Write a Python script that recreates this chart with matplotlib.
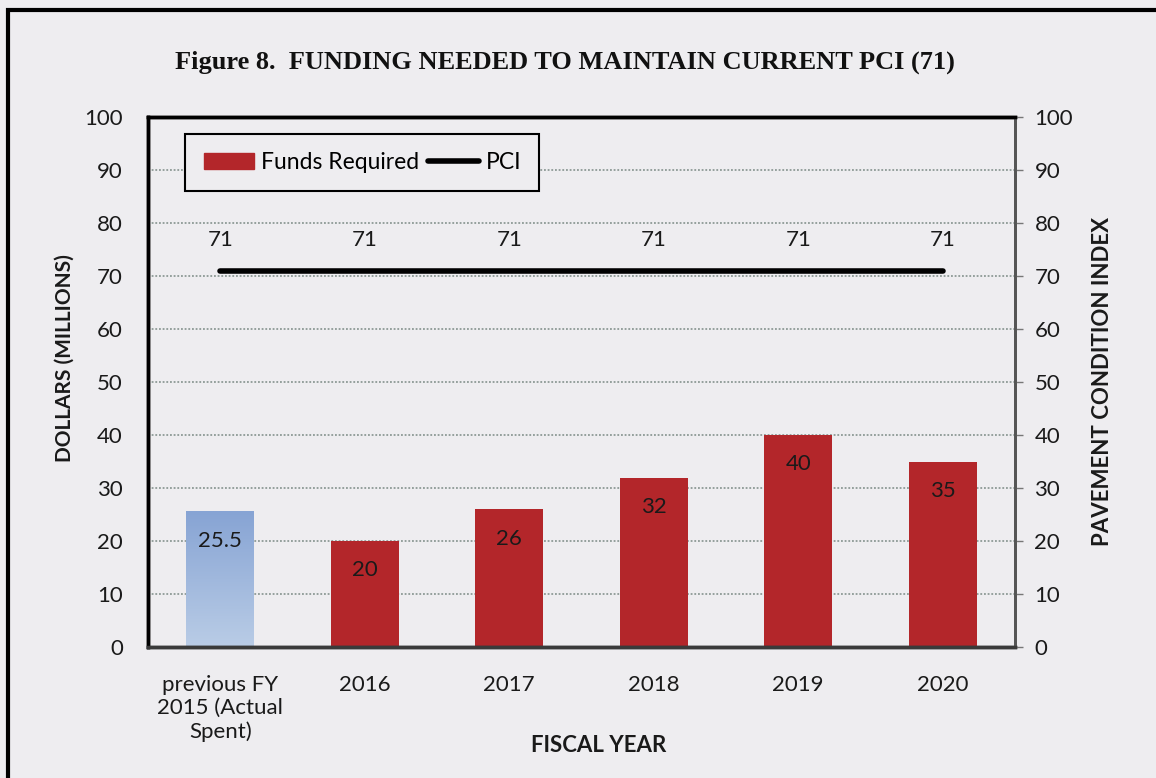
"""Funding needed to maintain current PCI - bar + line chart"""

import numpy as np
import matplotlib.pyplot as plt
from matplotlib.colors import LinearSegmentedColormap
from matplotlib.patches import Rectangle

# data
years = ["previous FY\n2015 (Actual\nSpent)", "2016", "2017", "2018", "2019", "2020"]
funds = [25.5, 20, 26, 32, 40, 35]
pci = [71, 71, 71, 71, 71, 71]

BG = "#EEEDF0"
RED = "#B3262A"
INK = "#1a1a1a"

plt.rcParams["font.family"] = ["Lato", "DejaVu Sans"]

fig = plt.figure(figsize=(11.56, 7.78), dpi=100, facecolor=BG)
ax = fig.add_axes([0.128, 0.168, 0.750, 0.682], facecolor=BG)
ax2 = ax.twinx()

x = np.arange(len(years))
width = 0.47

# first bar is actual spending (blue gradient), the rest are requirements
bars = ax.bar(x, funds, width=width, color=[BG] + [RED] * (len(x) - 1), zorder=2)
b0 = bars[0]
grad = np.linspace(0, 1, 100).reshape(-1, 1)
cmap = LinearSegmentedColormap.from_list("b", ["#B9CCE6", "#87A4D4"])
ax.imshow(grad, cmap=cmap, origin="lower", aspect="auto", zorder=2,
          extent=[b0.get_x(), b0.get_x() + b0.get_width(), 0, funds[0]])
for i, v in enumerate(funds):
    ax.annotate(f"{v:g}", (x[i], v), xytext=(0, -21), textcoords="offset points",
                ha="center", va="center", fontsize=16, color=INK, zorder=4)

ax.set_xlim(-0.5, len(x) - 0.5)
ax.set_ylim(0, 100)
ax.set_yticks(range(0, 101, 10))
ax.set_xticks(x)
ax.set_xticklabels(years, fontsize=16, color=INK, linespacing=1.2, va="top")
ax.tick_params(axis="x", length=0, pad=20)
ax.tick_params(axis="y", length=0, pad=18, labelsize=16, labelcolor=INK)
ax.grid(axis="y", linestyle=(0, (1.2, 1.2)), color="#7C8B86", linewidth=1.1, zorder=0)
ax.set_axisbelow(True)

# PCI line on right axis
ax2.plot(x, pci, color="black", linewidth=4, solid_capstyle="round", zorder=3)
for i, v in enumerate(pci):
    ax2.annotate(str(v), (x[i], v), xytext=(0, 22), textcoords="offset points",
                 ha="center", va="center", fontsize=16, color=INK)
ax2.set_ylim(0, 100)
ax2.set_yticks(range(0, 101, 10))
ax2.tick_params(axis="y", length=6, width=1, color="#777777", pad=8,
                labelsize=16, labelcolor=INK)

for a in (ax, ax2):
    a.spines["top"].set_color("black")
    a.spines["top"].set_linewidth(2.5)
    a.spines["left"].set_color("black")
    a.spines["left"].set_linewidth(2.5)
    a.spines["bottom"].set_color("#3a3a3a")
    a.spines["bottom"].set_linewidth(2.5)
    a.spines["right"].set_color("#555555")
    a.spines["right"].set_linewidth(2)

ax.set_ylabel("DOLLARS (MILLIONS)", fontsize=15, fontweight="bold", color=INK)
ax.yaxis.set_label_coords(-0.085, 0.545)
ax2.set_ylabel("PAVEMENT CONDITION INDEX", fontsize=16, fontweight="bold",
               labelpad=14, color=INK)
ax.set_xlabel("FISCAL YEAR", fontsize=16, fontweight="bold", color=INK)
ax.xaxis.set_label_coords(0.52, -0.165)

# legend
h1 = Rectangle((0, 0), 1, 1, color=RED)
h2 = ax2.get_lines()[0]
leg = ax2.legend([h1, h2], ["Funds Required", "PCI"], loc="upper left",
                 bbox_to_anchor=(0.043, 0.968), borderaxespad=0, ncol=2,
                 fontsize=16.5, frameon=True, fancybox=False, edgecolor="black",
                 facecolor=BG, framealpha=1, handlelength=2.2, handleheight=0.7,
                 columnspacing=0.4, handletextpad=0.3, borderpad=0.8)
leg.get_frame().set_linewidth(1.5)

fig.text(0.489, 0.92, "Figure 8.  FUNDING NEEDED TO MAINTAIN CURRENT PCI (71)",
         ha="center", va="center", fontsize=19, fontweight="bold",
         family=["Liberation Serif", "DejaVu Serif"], color="#111111")

# outer frame
fig.patches.append(Rectangle((8 / 1156, -0.05), 1.2, (768 / 778) + 0.05,
                             transform=fig.transFigure, fill=False,
                             edgecolor="black", linewidth=3))

fig.savefig("out.png", dpi=100, facecolor=BG)
